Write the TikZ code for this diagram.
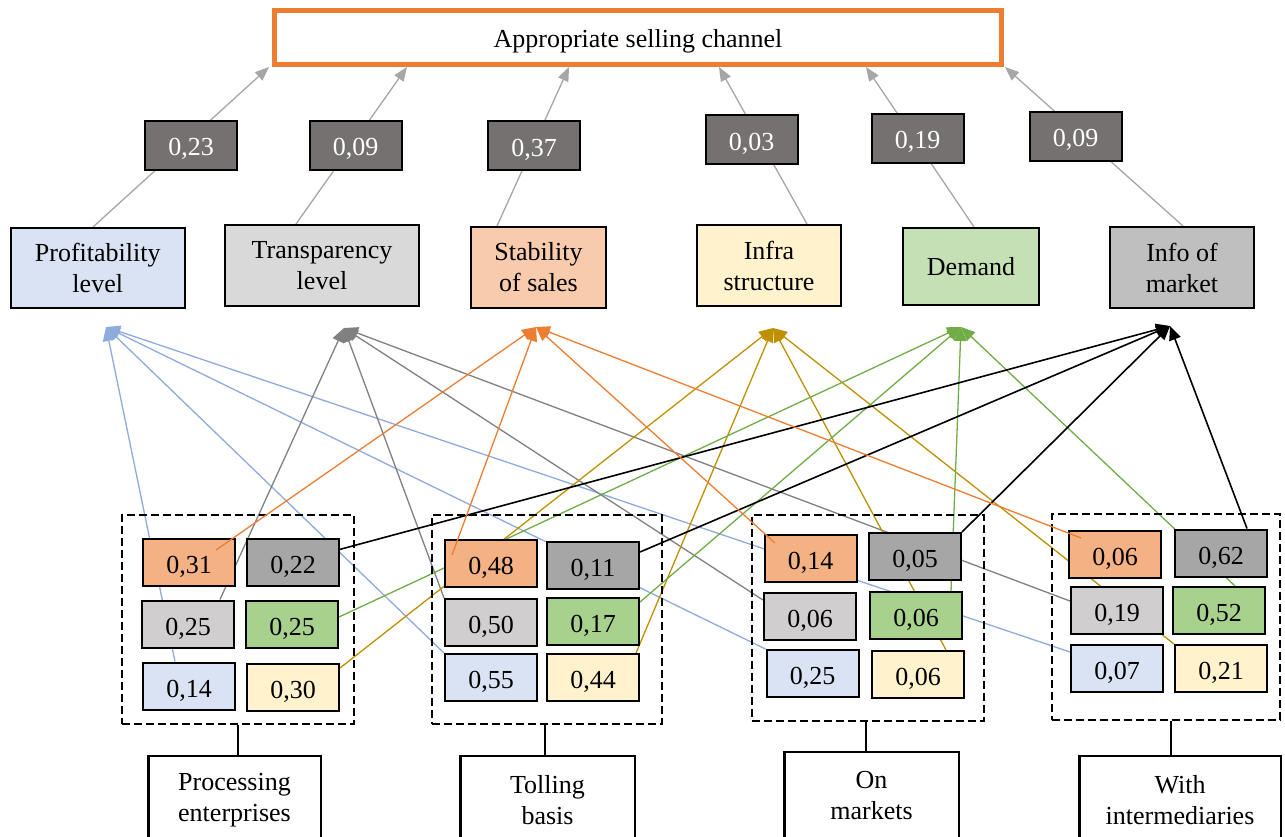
\documentclass[tikz,border=0pt]{standalone}
\usepackage{fontspec}
\setmainfont{Liberation Serif}
\usetikzlibrary{arrows.meta,backgrounds}
\definecolor{orT}{HTML}{ED7D31}
\definecolor{wfill}{HTML}{767171}
\definecolor{cB}{HTML}{DAE3F3}
\definecolor{cG}{HTML}{D9D9D9}
\definecolor{cO}{HTML}{F8CBAD}
\definecolor{cY}{HTML}{FFF2CC}
\definecolor{cN}{HTML}{C5E0B4}
\definecolor{cK}{HTML}{BFBFBF}
\definecolor{iO}{HTML}{F4B183}
\definecolor{iK}{HTML}{A6A6A6}
\definecolor{iG}{HTML}{D0CECE}
\definecolor{iN}{HTML}{A9D18E}
\definecolor{lB}{HTML}{8FAADC}
\definecolor{lG}{HTML}{808080}
\definecolor{lO}{HTML}{ED7D31}
\definecolor{lY}{HTML}{BF9000}
\definecolor{lN}{HTML}{70AD47}
\definecolor{topl}{HTML}{A6A6A6}
\newcommand\dgfont{\fontsize{26}{31}\selectfont}
\begin{document}
\begin{tikzpicture}[x=1pt,y=-1pt,
  every node/.style={inner sep=0pt},
  titlebox/.style={draw=orT, line width=5pt, fill=white, minimum width=727pt, minimum height=54pt, font=\dgfont, text height=19pt, text depth=0pt},
  wbox/.style={draw=black, line width=2pt, fill=wfill, text=white, minimum width=92pt, minimum height=49pt, font=\dgfont, text height=21pt, text depth=0pt},
  crit/.style={draw=black, line width=2pt, align=center, font=\dgfont},
  ibox/.style={draw=black, line width=2pt, minimum width=92pt, minimum height=47pt, font=\dgfont, text height=22pt, text depth=0pt},
  dbox/.style={draw=black, line width=2.5pt, dash pattern=on 8pt off 4pt},
  labbox/.style={draw=black, line width=2.5pt, fill=white, align=center, minimum height=88pt, font=\dgfont},
  toparr/.style={draw=topl, line width=1.3pt, -{Triangle[length=14pt,width=11pt]}},
  carr/.style={line width=1.3pt, -{Triangle[length=14pt,width=12pt]}},
  stem/.style={draw=black, line width=2.5pt}
]
\useasboundingbox (0,0) rectangle (1285,836);

% title
\node[titlebox] (t) at (638,37.5) {Appropriate selling channel};

% weights
\node[wbox] (w1) at (191,145) {0,23};
\node[wbox] (w2) at (355.5,145) {0,09};
\node[wbox] (w3) at (534,145.5) {0,37};
\node[wbox] (w4) at (751.5,139.5) {0,03};
\node[wbox] (w5) at (917.5,138) {0,19};
\node[wbox] (w6) at (1075.5,136) {0,09};

% criteria
\node[crit, fill=cB, minimum width=173.5pt, minimum height=80pt] (c1) at (97.75,268) {Profitability\\level};
\node[crit, fill=cG, minimum width=194pt, minimum height=81pt] (c2) at (322,265.5) {Transparency\\level};
\node[crit, fill=cO, minimum width=135pt, minimum height=81pt] (c3) at (538.5,267.5) {Stability\\of sales};
\node[crit, fill=cY, minimum width=144pt, minimum height=81pt] (c4) at (769,265.5) {Infra\\structure};
\node[crit, fill=cN, minimum width=136pt, minimum height=77pt] (c5) at (971,266.5) {Demand};
\node[crit, fill=cK, minimum width=144pt, minimum height=81pt] (c6) at (1182,267.5) {Info of\\market};

% arrow tips below criteria
\coordinate (pB) at (106,327);
\coordinate (pG) at (344,328);
\coordinate (pO) at (536,327);
\coordinate (pY) at (773,328);
\coordinate (pN) at (961,327);
\coordinate (pK) at (1170,326);

% dashed groups
\node[dbox, minimum width=232pt, minimum height=209pt] (d1) at (238,619.5) {};
\node[dbox, minimum width=230pt, minimum height=209pt] (d2) at (547,619.5) {};
\node[dbox, minimum width=232pt, minimum height=206pt] (d3) at (868,618) {};
\node[dbox, minimum width=228pt, minimum height=206pt] (d4) at (1166,617) {};

% group 1
\node[ibox, fill=iO] (a1o) at (189,562) {0,31};
\node[ibox, fill=iK] (a1k) at (293,562) {0,22};
\node[ibox, fill=iG] (a1g) at (188,624) {0,25};
\node[ibox, fill=iN] (a1n) at (292,624) {0,25};
\node[ibox, fill=cB] (a1b) at (189,686) {0,14};
\node[ibox, fill=cY] (a1y) at (293,687.5) {0,30};
% group 2
\node[ibox, fill=iO] (a2o) at (491,563.5) {0,48};
\node[ibox, fill=iK] (a2k) at (593,565) {0,11};
\node[ibox, fill=iG] (a2g) at (491,622.5) {0,50};
\node[ibox, fill=iN] (a2n) at (593,621.5) {0,17};
\node[ibox, fill=cB] (a2b) at (491,677.5) {0,55};
\node[ibox, fill=cY] (a2y) at (593,677.5) {0,44};
% group 3
\node[ibox, fill=iO] (a3o) at (810.5,558) {0,14};
\node[ibox, fill=iK] (a3k) at (915,556.5) {0,05};
\node[ibox, fill=iG] (a3g) at (810,616.5) {0,06};
\node[ibox, fill=iN] (a3n) at (916,615.5) {0,06};
\node[ibox, fill=cB] (a3b) at (812.5,673.5) {0,25};
\node[ibox, fill=cY] (a3y) at (918,674.5) {0,06};
% group 4
\node[ibox, fill=iO] (a4o) at (1115,554.5) {0,06};
\node[ibox, fill=iK] (a4k) at (1221,553) {0,62};
\node[ibox, fill=iG] (a4g) at (1117,610.5) {0,19};
\node[ibox, fill=iN] (a4n) at (1219,610.5) {0,52};
\node[ibox, fill=cB] (a4b) at (1117,668.5) {0,07};
\node[ibox, fill=cY] (a4y) at (1221,668.5) {0,21};

% channel labels
\node[labbox, minimum width=172.5pt] (l1) at (234.5,800) {Processing\\enterprises};
\node[labbox, minimum width=174.5pt] (l2) at (547.5,800) {Tolling\\basis};
\node[labbox, minimum width=174.5pt] (l3) at (871.5,796) {On\\markets};
\node[labbox, minimum width=201.5pt] (l4) at (1180,800) {With\\intermediaries};

\draw[stem] (d1.south) -- (d1.south |- l1.north);
\draw[stem] ([xshift=-2pt]d2.south) -- ([xshift=-2pt]d2.south |- l2.north);
\draw[stem] ([xshift=-2pt]d3.south) -- ([xshift=-2pt]d3.south |- l3.north);
\draw[stem] ([xshift=5pt]d4.south) -- ([xshift=5pt]d4.south |- l4.north);

% orange lines drawn over their own boxes
\draw[carr, lO] ([xshift=27pt,yshift=12pt]a1o.center) -- (pO);
\draw[carr, lO] ([xshift=-39pt,yshift=8.5pt]a2o.center) -- (pO);
\draw[carr, lO] ([xshift=-35.5pt,yshift=15pt]a3o.center) -- (pO);
\draw[carr, lO] ([xshift=-34pt,yshift=16.5pt]a4o.center) -- (pO);

\begin{scope}[on background layer]
% top connectors
\draw[toparr] ([xshift=-4.75pt]c1.north) -- ([xshift=-3pt]t.south west);
\draw[toparr] ([xshift=-26pt]c2.north) -- ([xshift=135pt]t.south west);
\draw[toparr] ([xshift=-41.5pt]c3.north) -- ([xshift=297pt]t.south west);
\draw[toparr] ([xshift=38pt]c4.north) -- ([xshift=447pt]t.south west);
\draw[toparr] ([xshift=3pt]c5.north) -- ([xshift=594pt]t.south west);
\draw[toparr] ([xshift=1pt]c6.north) -- ([xshift=733pt]t.south west);
% blue
\draw[carr, lB] ([xshift=-14pt]a1b.north) -- (pB);
\draw[carr, lB] (a2b.north west) -- (pB);
\draw[carr, lB] (a3b.north west) -- (pB);
\draw[carr, lB] ([yshift=-8pt]a4b.north west) -- (pB);
% gray
\draw[carr, lG] ([xshift=32pt]a1g.north) -- (pG);
\draw[carr, lG] (a2g.north west) -- (pG);
\draw[carr, lG] ([yshift=-8pt]a3g.north west) -- (pG);
\draw[carr, lG] ([yshift=9.5pt]a4g.west) -- (pG);
% gold
\draw[carr, lY] ([yshift=19.5pt]a1y.east) -- (pY);
\draw[carr, lY] ([xshift=-4pt]a2y.north east) -- (pY);
\draw[carr, lY] ([xshift=28pt]a3y.north) -- (pY);
\draw[carr, lY] (a4y.north west) -- (pY);
% green
\draw[carr, lN] ([yshift=7pt]a1n.east) -- (pN);
\draw[carr, lN] ([yshift=19.5pt]a2n.east) -- (pN);
\draw[carr, lN] ([xshift=35pt]a3n.north) -- (pN);
\draw[carr, lN] ([xshift=16pt]a4n.north) -- (pN);
% black
\draw[carr, black, line width=1.6pt] (a1k.center) -- (pK);
\draw[carr, black, line width=1.6pt] ([yshift=13pt]a2k.east) -- (pK);
\draw[carr, black, line width=1.6pt] (a3k.north east) -- (pK);
\draw[carr, black, line width=1.6pt] ([xshift=26pt]a4k.north) -- (pK);
\end{scope}
\end{tikzpicture}
\end{document}
